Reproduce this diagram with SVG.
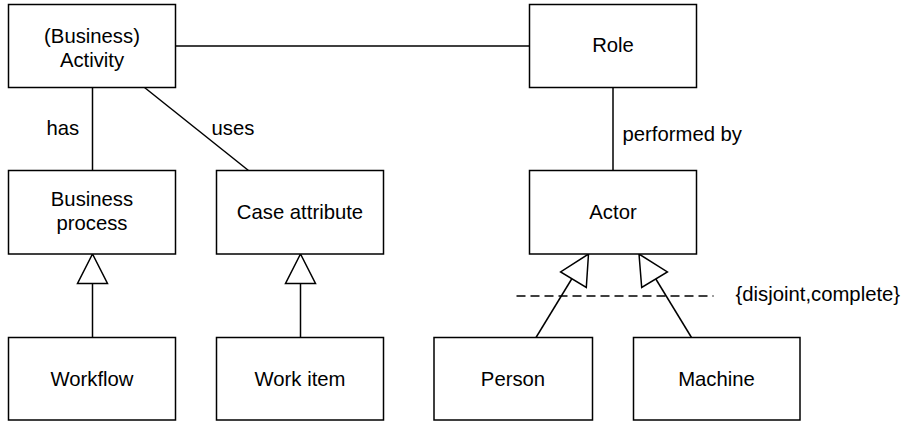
<svg xmlns="http://www.w3.org/2000/svg" width="904" height="421" viewBox="0 0 904 421">
  <style>
    .box { fill: #ffffff; stroke: #000000; stroke-width: 1.5; }
    .edge { fill: none; stroke: #000000; stroke-width: 1.5; }
    .dash { fill: none; stroke: #000000; stroke-width: 1.5; stroke-dasharray: 9 5; }
    .tri { fill: #ffffff; stroke: #000000; stroke-width: 1.5; stroke-linejoin: miter; }
    text { font-family: "Liberation Sans", Arial, sans-serif; font-size: 20.3px; fill: #000000; }
    .c { text-anchor: middle; }
  </style>
  <rect width="904" height="421" fill="#ffffff"/>

  <g id="connectors">
    <!-- association Activity - Role -->
    <line class="edge" x1="175.5" y1="46" x2="529.5" y2="46"/>
    <!-- has -->
    <line class="edge" x1="92.5" y1="87.5" x2="92.5" y2="170.5"/>
    <text x="46.5" y="135">has</text>
    <!-- uses -->
    <line class="edge" x1="144.5" y1="87.5" x2="248.5" y2="170.5"/>
    <text x="211.5" y="135">uses</text>
    <!-- performed by -->
    <line class="edge" x1="613" y1="87.5" x2="613" y2="170.5"/>
    <text x="622.5" y="141">performed by</text>

    <!-- generalisation: Workflow -> Business process -->
    <line class="edge" x1="92.5" y1="283.5" x2="92.5" y2="337.5"/>
    <polygon class="tri" points="92.5,254 107.5,283.5 77.5,283.5"/>
    <!-- generalisation: Work item -> Case attribute -->
    <line class="edge" x1="300.5" y1="283.5" x2="300.5" y2="337.5"/>
    <polygon class="tri" points="300.5,254 315.5,283.5 285.5,283.5"/>

    <!-- generalisation set: Person, Machine -> Actor -->
    <line class="dash" x1="516.5" y1="296" x2="713.5" y2="296"/>
    <text x="735.5" y="300.7">{disjoint,complete}</text>
    <line class="edge" x1="573.5" y1="276" x2="536" y2="337.5"/>
    <polygon class="tri" points="588.5,254 586.3,287.5 560.6,271.9"/>
    <line class="edge" x1="654" y1="276" x2="691.5" y2="337.5"/>
    <polygon class="tri" points="639,254 667.4,271.9 641.7,287.5"/>
  </g>

  <g id="activity">
    <rect class="box" x="8.5" y="4.5" width="167" height="83"/>
    <text class="c" x="92" y="42.5">(Business)</text>
    <text class="c" x="92" y="66.5">Activity</text>
  </g>
  <g id="role">
    <rect class="box" x="529.5" y="4.5" width="167" height="83"/>
    <text class="c" x="613" y="51.5">Role</text>
  </g>
  <g id="business-process">
    <rect class="box" x="8.5" y="170.5" width="167" height="83.5"/>
    <text class="c" x="92" y="206">Business</text>
    <text class="c" x="92" y="230">process</text>
  </g>
  <g id="case-attribute">
    <rect class="box" x="216.5" y="170.5" width="167" height="83.5"/>
    <text class="c" x="300" y="219.3">Case attribute</text>
  </g>
  <g id="actor">
    <rect class="box" x="529.5" y="170.5" width="167" height="83.5"/>
    <text class="c" x="613" y="219.3">Actor</text>
  </g>
  <g id="workflow">
    <rect class="box" x="8.5" y="337.5" width="167" height="82.5"/>
    <text class="c" x="92" y="386">Workflow</text>
  </g>
  <g id="work-item">
    <rect class="box" x="216.5" y="337.5" width="167" height="82.5"/>
    <text class="c" x="300" y="386">Work item</text>
  </g>
  <g id="person">
    <rect class="box" x="434" y="337.5" width="158.5" height="82.5"/>
    <text class="c" x="513" y="386">Person</text>
  </g>
  <g id="machine">
    <rect class="box" x="633.5" y="337.5" width="166.5" height="82.5"/>
    <text class="c" x="716.5" y="386">Machine</text>
  </g>
</svg>
